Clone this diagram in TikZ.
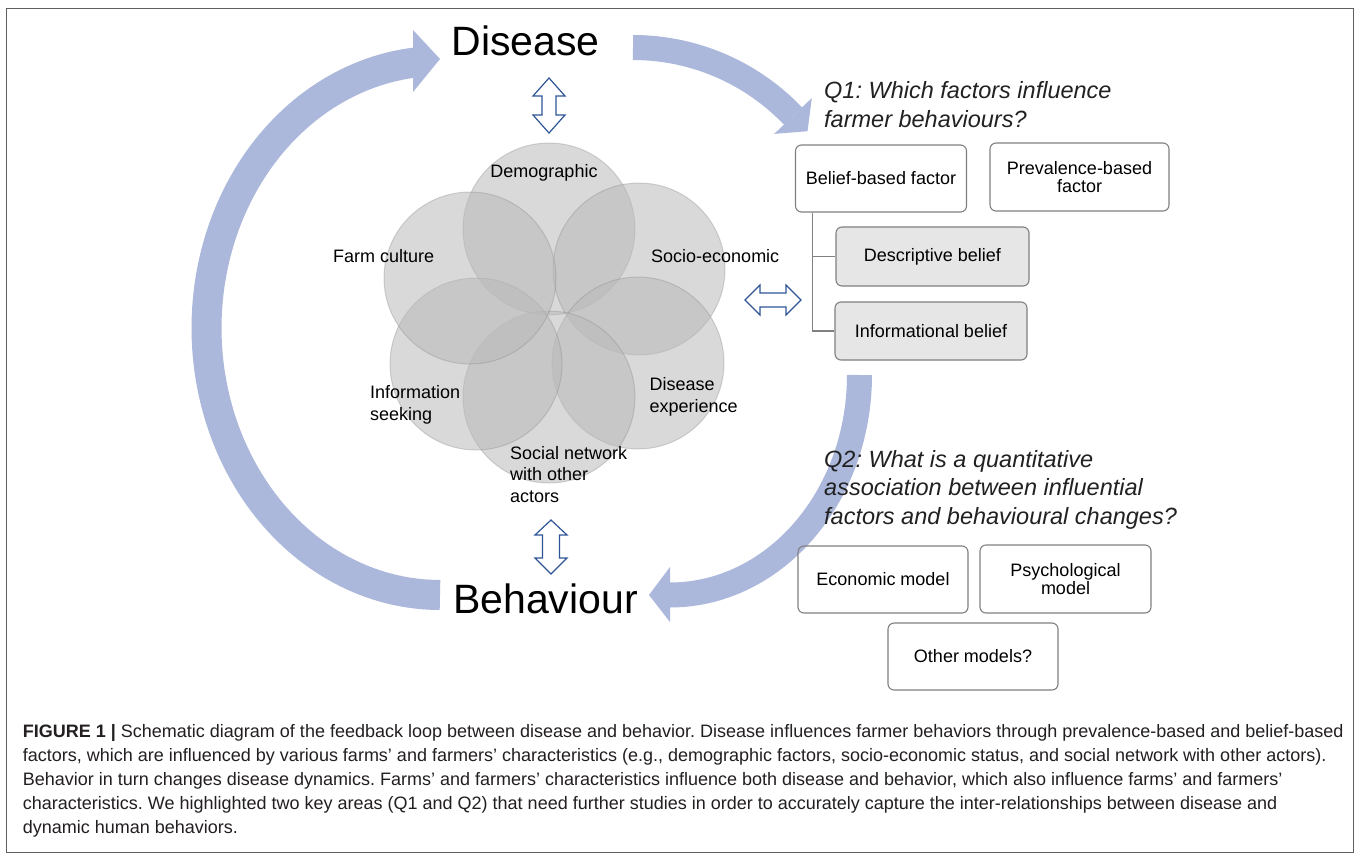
\documentclass[tikz,border=0pt]{standalone}
\usepackage{fontspec}
\setmainfont{Liberation Sans}
\usetikzlibrary{calc}
\frenchspacing

\definecolor{loopblue}{RGB}{171,184,219}
\definecolor{arrowblue}{RGB}{47,85,151}
\definecolor{boxgray}{RGB}{128,128,128}
\definecolor{cellgray}{RGB}{230,230,230}
\definecolor{discgray}{RGB}{186,186,186}
\definecolor{capblack}{RGB}{35,31,32}
\definecolor{framegray}{RGB}{95,95,95}

\tikzset{
	looparc/.style={draw=loopblue, line cap=butt, line join=round},
	loophead/.style={fill=loopblue},
	hollowarrow/.style={draw=arrowblue, fill=white, line width=1.2pt, line join=miter},
	disc/.style={fill=discgray, fill opacity=0.55, draw=gray, draw opacity=0.3, line width=1pt},
	disclabel/.style={inner sep=0, anchor=west, align=left, font=\fontsize{18}{21.7}\selectfont},
	factorbox/.style={draw=boxgray, line width=1.1pt, rounded corners=6pt, align=center, inner sep=0, font=\fontsize{18}{18.8}\selectfont},
	beliefbox/.style={factorbox, fill=cellgray},
	boxline/.style={draw=boxgray, line width=1.1pt},
	question/.style={inner sep=0, anchor=base west, font=\fontsize{23.5}{29}\selectfont\itshape, text=black!87},
	bigword/.style={inner sep=0, anchor=base, font=\fontsize{41}{41}\selectfont},
	capline/.style={inner sep=0, anchor=base west, font=\fontsize{18}{24}\selectfont, text=capblack},
}

\begin{document}
\begin{tikzpicture}[x=1pt, y=-1pt]
	%%%%% START %%%%%
	\useasboundingbox[fill=white] (0,0) rectangle (1360,860);
	\draw[framegray, line width=1.5pt] (6.5,8.5) rectangle (1353.5,852.5);
	
	% big loop
	\draw[looparc, line width=30pt] plot[domain=90:264, samples=90] ({440+233.5*cos(\x)}, {328+267*sin(\x)});
	\fill[loophead] (413,30) -- (440,59) -- (413,92) -- cycle;
	
	\draw[looparc, line width=25pt] plot[domain=0:46.4, samples=40] ({633+221*sin(\x)}, {268.5-221*cos(\x)});
	\fill[loophead] (811.8,98.1) -- (807.5,131.2) -- (774.2,133.9) -- cycle;
	
	\draw[looparc, line width=25pt] plot[domain=0:90, samples=60] ({670+189.5*cos(\x)}, {375+220*sin(\x)});
	\fill[loophead] (670,567) -- (649,595) -- (670,622) -- cycle;
	
	\node[bigword] (disease) at (525.5,55) {Disease};
	\node[bigword] (behaviour) at (545.5,613) {Behaviour};
	
	% hollow double arrows
	\draw[hollowarrow] (549,78) -- (565,96) -- (556,96) -- (556,115) -- (565,115) -- (549,133)
		-- (533,115) -- (542,115) -- (542,96) -- (533,96) -- cycle;
	\draw[hollowarrow] (551,520) -- (567,535) -- (559.5,535) -- (559.5,558) -- (567,558) -- (551,574)
		-- (535,558) -- (542.5,558) -- (542.5,535) -- (535,535) -- cycle;
	\draw[hollowarrow] (745,300) -- (760,285) -- (760,293) -- (786,293) -- (786,285) -- (801,300)
		-- (786,315) -- (786,307) -- (760,307) -- (760,315) -- cycle;
	
	% characteristics
	\foreach \cx/\cy in {549/229, 639/269, 638/363, 549/397, 476/364, 470/278}
		\draw[disc] (\cx,\cy) circle (86);
	
	\node[inner sep=0, anchor=base, font=\fontsize{18}{21.7}\selectfont] (demo) at (544,177) {Demographic};
	\node[inner sep=0, anchor=base west, font=\fontsize{18}{21.7}\selectfont] (farm) at (333,262) {Farm culture};
	\node[inner sep=0, anchor=base west, font=\fontsize{18}{21.7}\selectfont] (socio) at (651,262) {Socio-economic};
	\node[disclabel] (info) at (370,404.5) {Information\\seeking};
	\node[disclabel] (exper) at (649.3,397) {Disease\\experience};
	\node[disclabel] (social) at (510,474.5) {Social network\\with other\\actors};
	
	% Q1
	\node[question] (q1a) at (824,98) {Q1: Which factors influence};
	\node[question] (q1b) at (824,127) {farmer behaviours?};
	
	\node[factorbox, minimum width=171pt, minimum height=67pt] (belief) at (881,178.5) {Belief-based factor};
	\node[factorbox, minimum width=179pt, minimum height=68pt] (preval) at (1079.5,177) {Prevalence-based\\factor};
	\node[beliefbox, minimum width=193pt, minimum height=59pt] (descr) at (932.5,256.5) {Descriptive belief};
	\node[beliefbox, minimum width=192pt, minimum height=58pt] (inform) at (931,331) {Informational belief};
	
	\draw[boxline] ($(belief.south west)+(17.5,0)$) |- (descr.west);
	\draw[boxline] ($(belief.south west)+(17.5,0)$) |- (inform.west);
	
	% Q2
	\node[question] (q2a) at (824,467) {Q2: What is a quantitative};
	\node[question] (q2b) at (824,495.5) {association between influential};
	\node[question] (q2c) at (824,524) {factors and behavioural changes?};
	
	\node[factorbox, minimum width=170pt, minimum height=67pt] (econ) at (883,579.5) {Economic model};
	\node[factorbox, minimum width=171pt, minimum height=68pt] (psych) at (1065.5,579) {Psychological\\model};
	\node[factorbox, minimum width=170pt, minimum height=67pt] (other) at (973,656.5) {Other models?};
	
	% caption
	\node[capline] (cap1) at (22.7,737) {\textbf{FIGURE 1 |} Schematic diagram of the feedback loop between disease and behavior. Disease influences farmer behaviors through prevalence-based and belief-based};
	\node[capline] (cap2) at (22.7,761) {factors, which are influenced by various farms’ and farmers’ characteristics (e.g., demographic factors, socio-economic status, and social network with other actors).};
	\node[capline] (cap3) at (22.7,785) {Behavior in turn changes disease dynamics. Farms’ and farmers’ characteristics influence both disease and behavior, which also influence farms’ and farmers’};
	\node[capline] (cap4) at (22.7,809) {characteristics. We highlighted two key areas (Q1 and Q2) that need further studies in order to accurately capture the inter-relationships between disease and};
	\node[capline] (cap5) at (22.7,833) {dynamic human behaviors.};
	%%%%% END %%%%%
\end{tikzpicture}
\end{document}
